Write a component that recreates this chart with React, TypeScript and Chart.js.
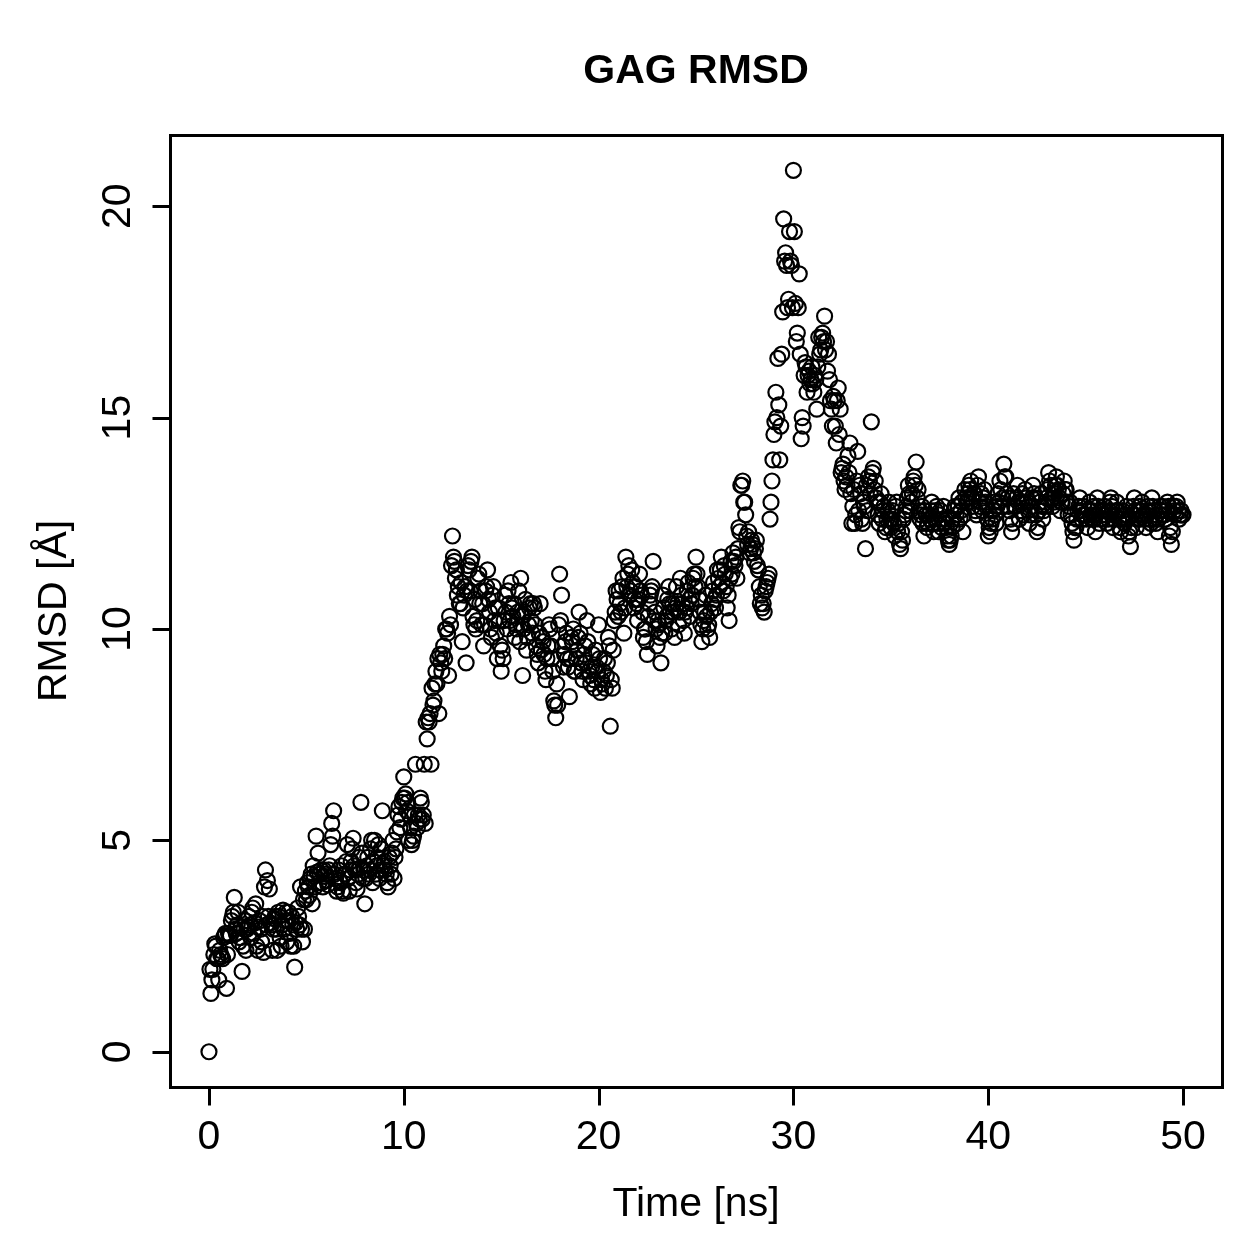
import React, { useEffect, useRef } from "react";
import { Chart, registerables } from "chart.js";

Chart.register(...registerables);

const chartTitle = "GAG RMSD";
const xAxisTitle = "Time [ns]";
const yAxisTitle = "RMSD [Å]";
const xTicks = [0, 10, 20, 30, 40, 50];
const yTicks = [0, 5, 10, 15, 20];
const frameStepNs = 0.1;
const halfFrameOffsetNs = 0.05;

// RMSD at whole frames (t = 0.0, 0.1, ... 50.0 ns), ten values per nanosecond
const rmsd00to09 = [0, 1.38, 1.95, 2.55, 2.2, 1.7, 2.3, 2.2, 2.75, 1.5, 2.8, 2.75, 3.2, 3.65, 2.8, 3.3, 2.7, 1.9, 2.9, 2.4, 2.95, 3.0, 3.3, 2.8, 3.5, 2.4, 3.1, 2.6, 2.35, 4.3, 4.05, 3.85, 3.0, 2.9, 3.2, 2.4, 3.2, 2.5, 3.35, 3.1, 2.6, 3.3, 2.5, 3.0, 2.0, 2.9, 3.2, 3.9, 2.6, 2.9, 3.6, 3.9, 4.1, 3.5, 4.15, 5.1, 4.7, 4.2, 4.0, 4.3, 4.2, 3.95, 4.4, 5.4, 5.7, 4.1, 3.9, 4.05, 4.4, 3.75, 4.2, 4.9, 3.8, 4.5, 5.05, 4.3, 3.85, 4.6, 5.9, 4.1, 3.5, 4.4, 4.2, 4.8, 4.0, 5.0, 4.4, 4.9, 4.3, 5.7, 4.5, 4.2, 3.9, 4.4, 4.7, 4.1, 4.8, 5.6, 5.3, 5.9];
const rmsd10to19 = [6.5, 6.1, 5.9, 5.6, 4.9, 5.1, 6.8, 5.3, 5.5, 5.9, 5.6, 5.4, 7.4, 7.8, 6.8, 8.2, 8.7, 8.7, 8.0, 9.2, 9.4, 9.3, 10.0, 8.9, 10.1, 12.2, 11.6, 11.4, 11.0, 10.6, 9.7, 10.8, 9.2, 11.5, 10.9, 11.7, 10.1, 10.0, 11.2, 10.6, 10.1, 9.6, 10.9, 11.4, 10.4, 9.8, 11.0, 10.5, 9.3, 10.2, 9.0, 9.3, 10.8, 10.0, 10.6, 11.1, 10.3, 9.8, 10.0, 10.9, 11.2, 8.9, 10.4, 9.5, 10.1, 10.6, 9.9, 10.5, 9.6, 9.2, 10.6, 9.8, 9.4, 8.8, 9.6, 10.0, 9.3, 8.3, 7.9, 8.2, 11.3, 10.8, 9.1, 9.7, 9.3, 8.4, 9.8, 10.0, 9.0, 9.5, 10.4, 9.2, 8.8, 9.6, 10.2, 9.0, 8.7, 9.4, 8.6, 9.1];
const rmsd20to29 = [10.1, 8.5, 8.7, 9.3, 8.9, 9.8, 7.7, 8.6, 10.2, 10.9, 10.3, 10.6, 11.0, 9.9, 11.7, 11.3, 10.8, 11.4, 10.5, 11.0, 10.2, 11.3, 10.8, 9.8, 10.0, 9.4, 10.6, 10.9, 11.6, 10.4, 9.6, 10.1, 9.2, 10.8, 9.9, 10.3, 11.0, 10.4, 10.6, 9.8, 11.0, 10.1, 11.2, 10.6, 9.9, 10.5, 11.1, 10.3, 10.8, 11.3, 11.7, 11.0, 10.4, 9.7, 10.2, 10.8, 10.0, 9.8, 10.6, 11.1, 10.5, 11.4, 11.0, 11.7, 10.9, 11.3, 10.5, 10.2, 11.6, 11.8, 11.5, 11.2, 12.4, 13.4, 13.5, 13.0, 12.2, 12.3, 11.9, 12.0, 11.6, 12.1, 11.4, 10.6, 10.5, 10.4, 11.0, 11.2, 12.6, 13.5, 14.6, 15.6, 16.4, 14.0, 16.5, 19.7, 18.9, 17.6, 19.4, 18.6];
const rmsd30to39 = [20.85, 17.7, 17.0, 18.4, 14.5, 14.8, 16.3, 15.6, 16.1, 15.9, 15.8, 16.0, 15.2, 16.9, 16.6, 17.0, 17.4, 16.8, 16.5, 15.4, 14.8, 15.4, 14.4, 15.7, 15.2, 13.8, 13.5, 13.6, 14.1, 14.4, 12.5, 13.3, 12.7, 14.2, 13.4, 12.6, 13.0, 11.9, 12.8, 13.5, 14.9, 13.8, 13.5, 13.0, 12.5, 13.2, 12.8, 12.3, 12.6, 13.0, 12.4, 12.8, 12.2, 13.0, 12.5, 11.9, 12.1, 12.7, 12.9, 13.4, 12.8, 13.2, 13.6, 13.95, 13.3, 12.6, 12.9, 12.2, 12.7, 12.5, 12.6, 13.0, 12.3, 12.8, 12.5, 12.7, 12.4, 12.9, 12.6, 12.2, 12.0, 12.2, 12.6, 12.9, 12.5, 13.1, 12.8, 12.3, 13.3, 13.0, 13.4, 13.5, 12.9, 13.2, 12.7, 13.6, 13.0, 12.8, 13.3, 12.9];
const rmsd40to50 = [12.2, 12.3, 12.6, 13.0, 12.5, 13.2, 13.5, 12.9, 13.9, 13.6, 13.1, 12.8, 12.3, 13.2, 12.9, 13.4, 12.6, 13.0, 12.7, 13.3, 13.0, 12.5, 12.9, 13.4, 13.1, 12.3, 12.8, 13.2, 12.6, 12.9, 13.1, 13.7, 13.4, 12.9, 13.2, 13.6, 13.3, 12.8, 13.0, 13.5, 13.3, 12.7, 13.0, 12.5, 12.1, 12.4, 12.8, 13.1, 12.6, 12.9, 12.7, 12.4, 13.0, 12.6, 12.9, 12.3, 13.1, 12.5, 12.8, 12.6, 12.9, 12.5, 12.8, 13.1, 12.4, 12.7, 13.0, 12.6, 12.3, 12.8, 12.5, 12.9, 12.2, 11.95, 12.7, 13.1, 12.4, 12.8, 12.6, 13.0, 12.7, 12.4, 12.9, 12.6, 13.1, 12.8, 12.5, 12.3, 12.9, 12.7, 12.8, 12.6, 13.0, 12.2, 12.0, 12.9, 12.7, 13.0, 12.6, 12.8, 12.7];

// RMSD at half frames (t = 0.05, 0.15, ... 49.95 ns)
const rmsdHalf00to09 = [1.95, 1.7, 2.3, 2.5, 2.2, 2.4, 2.25, 2.7, 2.8, 2.3, 2.75, 3.1, 3.3, 2.9, 3.0, 2.6, 2.95, 2.5, 3.1, 2.9, 3.2, 2.7, 3.4, 3.05, 2.5, 2.95, 2.9, 3.2, 3.9, 3.0, 3.2, 3.05, 2.4, 3.15, 2.9, 3.3, 2.7, 3.0, 2.9, 3.3, 3.1, 2.8, 3.2, 2.5, 3.05, 3.4, 3.0, 2.9, 3.6, 3.8, 4.0, 3.7, 4.2, 4.4, 3.9, 4.25, 4.0, 4.3, 3.9, 4.15, 4.05, 4.3, 4.9, 5.1, 4.2, 3.8, 4.3, 4.0, 3.8, 4.2, 4.5, 4.1, 4.3, 4.8, 4.4, 4.0, 4.2, 4.35, 4.7, 4.3, 4.1, 4.6, 4.3, 5.0, 4.5, 4.2, 4.6, 4.1, 4.8, 4.4, 4.3, 4.0, 4.6, 4.2, 5.0, 4.6, 5.2, 5.8, 5.5, 6.0];
const rmsdHalf10to19 = [6.0, 5.7, 5.0, 5.3, 5.0, 5.6, 5.4, 5.6, 6.0, 5.5, 6.8, 7.8, 7.9, 8.0, 8.6, 8.3, 9.0, 9.3, 9.4, 9.0, 9.6, 10.0, 9.9, 10.3, 11.5, 11.7, 11.2, 10.8, 10.6, 11.1, 10.5, 11.0, 10.9, 11.4, 11.6, 10.3, 10.7, 10.2, 11.3, 10.9, 10.6, 10.1, 11.0, 10.7, 10.0, 10.8, 10.2, 9.9, 10.5, 9.6, 9.5, 10.2, 10.4, 10.9, 10.2, 10.5, 10.6, 10.1, 10.4, 9.7, 10.3, 10.0, 10.7, 9.8, 10.5, 10.2, 10.6, 10.1, 9.4, 9.9, 9.5, 9.7, 9.0, 9.3, 10.1, 9.6, 9.0, 8.2, 8.7, 10.1, 10.2, 9.6, 9.4, 9.9, 9.1, 9.3, 9.7, 9.0, 9.3, 9.8, 9.9, 9.0, 9.4, 9.2, 9.7, 8.9, 9.1, 8.8, 9.5, 9.0];
const rmsdHalf20to29 = [9.3, 8.8, 9.0, 8.6, 9.2, 9.6, 8.8, 9.5, 10.4, 10.7, 10.9, 10.4, 11.2, 10.5, 11.0, 11.5, 10.9, 11.1, 10.7, 10.6, 10.7, 10.9, 10.4, 10.0, 9.7, 10.3, 10.8, 11.0, 10.2, 10.0, 10.2, 9.8, 9.9, 10.5, 10.2, 10.7, 10.6, 10.0, 10.4, 10.5, 10.6, 10.4, 10.8, 10.2, 10.4, 10.9, 10.7, 10.6, 11.2, 11.0, 11.3, 10.7, 10.1, 10.0, 10.4, 10.3, 10.1, 10.4, 10.9, 10.7, 10.8, 11.2, 11.4, 11.1, 11.5, 11.0, 10.8, 11.2, 11.3, 11.6, 11.7, 11.9, 12.3, 13.4, 13.0, 12.7, 12.0, 11.8, 12.1, 11.8, 11.9, 11.5, 11.0, 10.8, 10.6, 10.9, 11.1, 11.3, 13.0, 14.0, 14.9, 15.0, 15.3, 14.8, 17.5, 18.7, 18.6, 17.8, 18.7, 17.6];
const rmsdHalf30to39 = [19.4, 16.8, 17.6, 16.5, 15.0, 16.0, 16.2, 16.0, 15.8, 16.2, 15.6, 15.9, 16.2, 16.5, 16.9, 16.8, 16.6, 16.1, 15.9, 15.2, 15.5, 14.8, 15.4, 14.6, 13.7, 13.9, 13.3, 13.4, 13.7, 13.2, 12.9, 12.5, 13.5, 12.8, 13.2, 12.5, 12.9, 13.4, 13.6, 13.2, 13.7, 13.3, 13.1, 12.7, 13.0, 12.6, 12.9, 12.4, 12.8, 12.6, 12.6, 12.5, 12.9, 12.3, 12.0, 12.3, 12.6, 12.8, 13.1, 13.2, 13.0, 13.5, 13.4, 13.1, 12.8, 12.7, 12.5, 12.8, 12.4, 12.7, 12.8, 12.5, 12.6, 12.9, 12.3, 12.8, 12.6, 12.5, 12.4, 12.1, 12.1, 12.4, 12.8, 12.7, 12.9, 12.6, 13.0, 12.7, 13.1, 13.2, 13.3, 13.1, 13.2, 12.8, 13.4, 12.9, 13.2, 13.1, 13.0, 12.6];
const rmsdHalf40to49 = [12.4, 12.5, 12.8, 12.7, 12.9, 13.0, 13.3, 13.1, 13.6, 13.2, 12.9, 12.6, 12.5, 12.9, 13.1, 13.0, 12.8, 13.2, 13.0, 13.1, 12.8, 12.7, 13.1, 13.2, 12.7, 12.4, 13.0, 12.9, 12.8, 13.0, 13.3, 13.5, 13.1, 13.0, 13.4, 13.4, 13.1, 13.0, 13.2, 13.3, 13.0, 12.9, 12.7, 12.3, 12.4, 12.6, 12.9, 12.8, 12.7, 12.7, 12.6, 12.8, 12.7, 12.8, 12.6, 12.7, 12.9, 12.6, 12.7, 12.8, 12.7, 12.6, 13.0, 12.9, 12.6, 12.8, 12.8, 12.4, 12.6, 12.6, 12.7, 12.6, 12.3, 12.4, 12.9, 12.8, 12.6, 12.9, 12.8, 12.7, 12.6, 12.7, 12.8, 12.5, 12.9, 12.6, 12.7, 12.6, 12.8, 12.9, 12.7, 12.8, 12.9, 12.4, 12.3, 12.8, 12.9, 12.8, 12.7, 12.7];

const rmsdFrames = [...rmsd00to09, ...rmsd10to19, ...rmsd20to29, ...rmsd30to39, ...rmsd40to50];
const rmsdHalfFrames = [...rmsdHalf00to09, ...rmsdHalf10to19, ...rmsdHalf20to29, ...rmsdHalf30to39, ...rmsdHalf40to49];

const FONT = "'Liberation Sans', Arial, Helvetica, sans-serif";

const rAxesPlugin = {
  id: "rAxes",
  afterDraw(chart: any) {
    const { ctx, chartArea, scales } = chart;
    const xs = scales.x;
    const ys = scales.y;
    ctx.save();
    ctx.strokeStyle = "#000";
    ctx.fillStyle = "#000";
    ctx.lineWidth = 3;
    ctx.lineCap = "square";
    const l = Math.round(chartArea.left) + 0.5;
    const t0 = Math.round(chartArea.top) + 0.5;
    const r = Math.round(chartArea.right) + 0.5;
    const b = Math.round(chartArea.bottom) + 0.5;
    ctx.strokeRect(l, t0, r - l, b - t0);
    ctx.lineCap = "butt";
    ctx.beginPath();
    for (const t of xTicks) {
      const px = Math.round(xs.getPixelForValue(t)) + 0.5;
      ctx.moveTo(px, b);
      ctx.lineTo(px, b + 18);
    }
    for (const t of yTicks) {
      const py = Math.round(ys.getPixelForValue(t)) + 0.5;
      ctx.moveTo(l, py);
      ctx.lineTo(l - 18, py);
    }
    ctx.stroke();
    ctx.font = `41px ${FONT}`;
    ctx.textAlign = "center";
    ctx.textBaseline = "alphabetic";
    for (const t of xTicks) {
      ctx.fillText(String(t), xs.getPixelForValue(t), 1149);
    }
    for (const t of yTicks) {
      ctx.save();
      ctx.translate(130, ys.getPixelForValue(t));
      ctx.rotate(-Math.PI / 2);
      ctx.fillText(String(t), 0, 0);
      ctx.restore();
    }
    const cx = (chartArea.left + chartArea.right) / 2;
    const cy = (chartArea.top + chartArea.bottom) / 2;
    ctx.fillText(xAxisTitle, cx, 1216);
    ctx.save();
    ctx.translate(66, cy);
    ctx.rotate(-Math.PI / 2);
    ctx.fillText(yAxisTitle, 0, 0);
    ctx.restore();
    ctx.font = `bold 41px ${FONT}`;
    ctx.fillText(chartTitle, cx, 83);
    ctx.restore();
  },
};

export default function App() {
  const ref = useRef<HTMLCanvasElement | null>(null);
  useEffect(() => {
    if (!ref.current) return;
    const points: { x: number; y: number }[] = [];
    rmsdFrames.forEach((v, i) => points.push({ x: i * frameStepNs, y: v }));
    rmsdHalfFrames.forEach((v, i) => points.push({ x: i * frameStepNs + halfFrameOffsetNs, y: v }));
    const chart = new Chart(ref.current, {
      type: "scatter",
      data: {
        datasets: [
          {
            data: points,
            showLine: false,
          },
        ],
      },
      options: {
        responsive: false,
        animation: false,
        devicePixelRatio: 1,
        elements: {
          point: {
            pointStyle: "circle",
            radius: 7.5,
            borderWidth: 2.2,
            borderColor: "#000",
            backgroundColor: "rgba(0,0,0,0)",
          },
        },
        layout: { padding: { left: 170, right: 37, top: 135, bottom: 172 } },
        plugins: { legend: { display: false }, title: { display: false }, tooltip: { enabled: false } },
        scales: {
          x: { type: "linear", min: -2, max: 52, display: false },
          y: { type: "linear", min: -0.834, max: 21.685, display: false },
        },
      },
      plugins: [rAxesPlugin],
    });
    return () => chart.destroy();
  }, []);
  return (
    <div style={{ position: "fixed", left: 0, top: 0, width: 1259, height: 1259, background: "#fff" }}>
      <canvas ref={ref} width={1259} height={1259} style={{ width: 1259, height: 1259 }} />
    </div>
  );
}
